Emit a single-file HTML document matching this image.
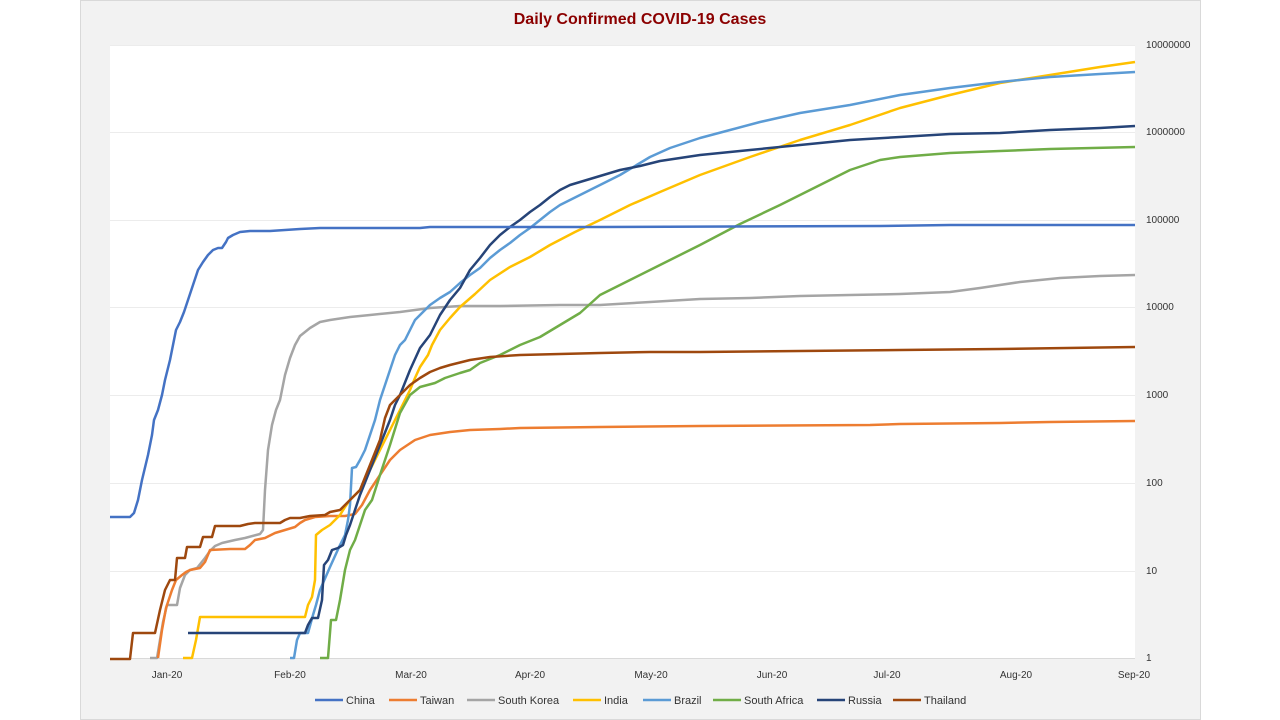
<!DOCTYPE html>
<html><head><meta charset="utf-8"><style>
html,body{margin:0;padding:0;background:#fff;}
svg{display:block;font-family:"Liberation Sans",Arial,sans-serif;}
</style></head><body>
<svg width="1280" height="720" viewBox="0 0 1280 720">
<rect x="0" y="0" width="1280" height="720" fill="#fff"/>
<rect x="80.5" y="0.5" width="1120" height="719" fill="#f2f2f2" stroke="#d9d9d9"/>
<rect x="110" y="45" width="1025" height="613" fill="#fff"/>
<text x="640" y="24" text-anchor="middle" font-size="16" font-weight="bold" fill="#8b0000">Daily Confirmed COVID-19 Cases</text>
<g stroke="#ececec" stroke-width="1">
<line x1="110" x2="1135" y1="45.5" y2="45.5"/><line x1="110" x2="1135" y1="132.5" y2="132.5"/>
<line x1="110" x2="1135" y1="220.5" y2="220.5"/><line x1="110" x2="1135" y1="307.5" y2="307.5"/>
<line x1="110" x2="1135" y1="395.5" y2="395.5"/><line x1="110" x2="1135" y1="483.5" y2="483.5"/>
<line x1="110" x2="1135" y1="571.5" y2="571.5"/>
</g>
<line x1="110" x2="1135" y1="658.5" y2="658.5" stroke="#d9d9d9"/>
<g font-size="10" fill="#333">
<text x="1146" y="48">10000000</text><text x="1146" y="135">1000000</text><text x="1146" y="223">100000</text>
<text x="1146" y="310">10000</text><text x="1146" y="398">1000</text><text x="1146" y="486">100</text>
<text x="1146" y="574">10</text><text x="1146" y="661">1</text>
</g>
<g font-size="10" fill="#333" text-anchor="middle">
<text x="167" y="678">Jan-20</text><text x="290" y="678">Feb-20</text><text x="411" y="678">Mar-20</text>
<text x="530" y="678">Apr-20</text><text x="651" y="678">May-20</text><text x="772" y="678">Jun-20</text>
<text x="887" y="678">Jul-20</text><text x="1016" y="678">Aug-20</text><text x="1134" y="678">Sep-20</text>
</g>
<g fill="none" stroke-width="2.5" stroke-linejoin="round">
<polyline stroke="#A5A5A5" points="150,658 157,658 160,640 163,622 167,605 172,605 177,605 180,588 185,575 190,570 197,568 205,558 210,551 215,546 222,543 235,540 245,538 260,534 263,530 265,490 268,450 272,425 276,410 280,400 285,375 290,358 295,345 300,336 310,328 320,322 330,320 350,317 370,315 400,312 430,308 460,306 500,306 560,305 600,305 650,302 700,299 750,298 800,296 850,295 900,294 950,292 980,288 1020,282 1060,278 1100,276 1135,275"/>
<polyline stroke="#ED7D31" points="158,658 162,630 166,608 172,590 176,580 182,575 186,572 190,570 200,568 205,562 210,550 230,549 245,549 250,545 255,540 265,538 275,533 285,530 295,527 300,523 305,520 315,517 330,516 345,516 355,514 362,505 370,490 380,475 390,460 400,450 415,440 430,435 450,432 470,430 500,429 520,428 600,427 700,426 870,425 900,424 1000,423 1050,422 1135,421"/>
<polyline stroke="#FFC000" points="183,658 192,658 196,640 200,617 240,617 305,617 308,605 312,597 315,580 316,535 322,530 330,525 340,515 345,507 350,500 360,490 370,470 380,450 390,430 400,410 405,400 410,390 415,378 420,367 428,355 432,345 440,330 450,318 460,307 475,294 490,280 510,267 530,257 550,245 575,232 600,220 630,205 660,192 700,175 750,157 800,140 850,125 900,108 950,95 1000,83 1050,75 1100,67 1135,62"/>
<polyline stroke="#70AD47" points="320,658 328,658 331,620 336,620 340,600 345,570 350,550 355,540 360,525 365,510 372,500 380,475 390,445 400,413 410,395 420,387 435,383 445,378 460,373 470,370 480,363 500,355 520,345 540,337 560,325 580,313 600,295 630,280 660,265 700,245 740,224 780,205 820,185 850,170 880,160 900,157 950,153 1000,151 1050,149 1135,147"/>
<polyline stroke="#5B9BD5" points="290,658 294,658 297,640 300,633 308,633 313,615 316,605 320,590 330,567 340,545 345,535 348,520 350,505 352,468 356,467 360,460 365,450 370,435 375,420 380,400 385,385 390,370 395,355 400,345 405,340 410,330 415,320 420,315 430,305 440,298 450,292 460,283 470,275 480,268 490,258 500,250 510,243 520,235 530,228 540,220 550,212 560,205 570,200 580,195 600,185 620,175 640,163 650,157 670,148 700,138 730,130 760,122 800,113 850,105 900,95 950,88 1000,82 1050,77 1100,74 1135,72"/>
<polyline stroke="#264478" points="188,633 305,633 308,625 312,618 318,618 322,600 324,565 328,560 332,550 338,548 343,545 346,535 350,525 355,510 360,495 370,470 380,445 390,420 395,405 400,395 410,370 420,348 430,335 440,315 450,300 460,288 470,270 480,258 490,245 500,235 510,227 520,220 530,212 540,205 550,197 560,190 570,185 580,182 600,176 620,170 640,166 660,161 700,155 750,150 800,145 850,140 900,137 950,134 1000,133 1050,130 1100,128 1135,126"/>
<polyline stroke="#9E480E" points="110,659 130,659 133,633 155,633 160,610 165,590 170,580 175,580 177,558 185,558 187,547 200,547 203,537 212,537 215,526 230,526 240,526 248,524 255,523 280,523 285,520 290,518 300,518 310,516 325,515 330,512 340,510 345,505 355,495 360,490 370,465 380,440 385,418 390,405 400,395 410,385 420,378 430,372 440,368 450,365 470,360 490,357 520,355 560,354 600,353 650,352 700,352 800,351 900,350 1000,349 1135,347"/>
<polyline stroke="#4472C4" points="110,517 130,517 134,513 138,500 142,480 148,455 152,435 154,420 158,410 162,395 165,380 170,360 173,345 176,330 180,322 184,312 188,300 193,285 198,270 203,262 208,255 213,250 218,248 222,248 226,242 228,238 233,235 240,232 250,231 270,231 300,229 320,228 420,228 430,227 600,227 880,226 950,225 1135,225"/>
</g>
<g font-size="11" fill="#333" stroke-width="2.5">
<line x1="315" x2="343" y1="700" y2="700" stroke="#4472C4"/><text x="346" y="704">China</text>
<line x1="389" x2="417" y1="700" y2="700" stroke="#ED7D31"/><text x="420" y="704">Taiwan</text>
<line x1="467" x2="495" y1="700" y2="700" stroke="#A5A5A5"/><text x="498" y="704">South Korea</text>
<line x1="573" x2="601" y1="700" y2="700" stroke="#FFC000"/><text x="604" y="704">India</text>
<line x1="643" x2="671" y1="700" y2="700" stroke="#5B9BD5"/><text x="674" y="704">Brazil</text>
<line x1="713" x2="741" y1="700" y2="700" stroke="#70AD47"/><text x="744" y="704">South Africa</text>
<line x1="817" x2="845" y1="700" y2="700" stroke="#264478"/><text x="848" y="704">Russia</text>
<line x1="893" x2="921" y1="700" y2="700" stroke="#9E480E"/><text x="924" y="704">Thailand</text>
</g>
</svg>
</body></html>
